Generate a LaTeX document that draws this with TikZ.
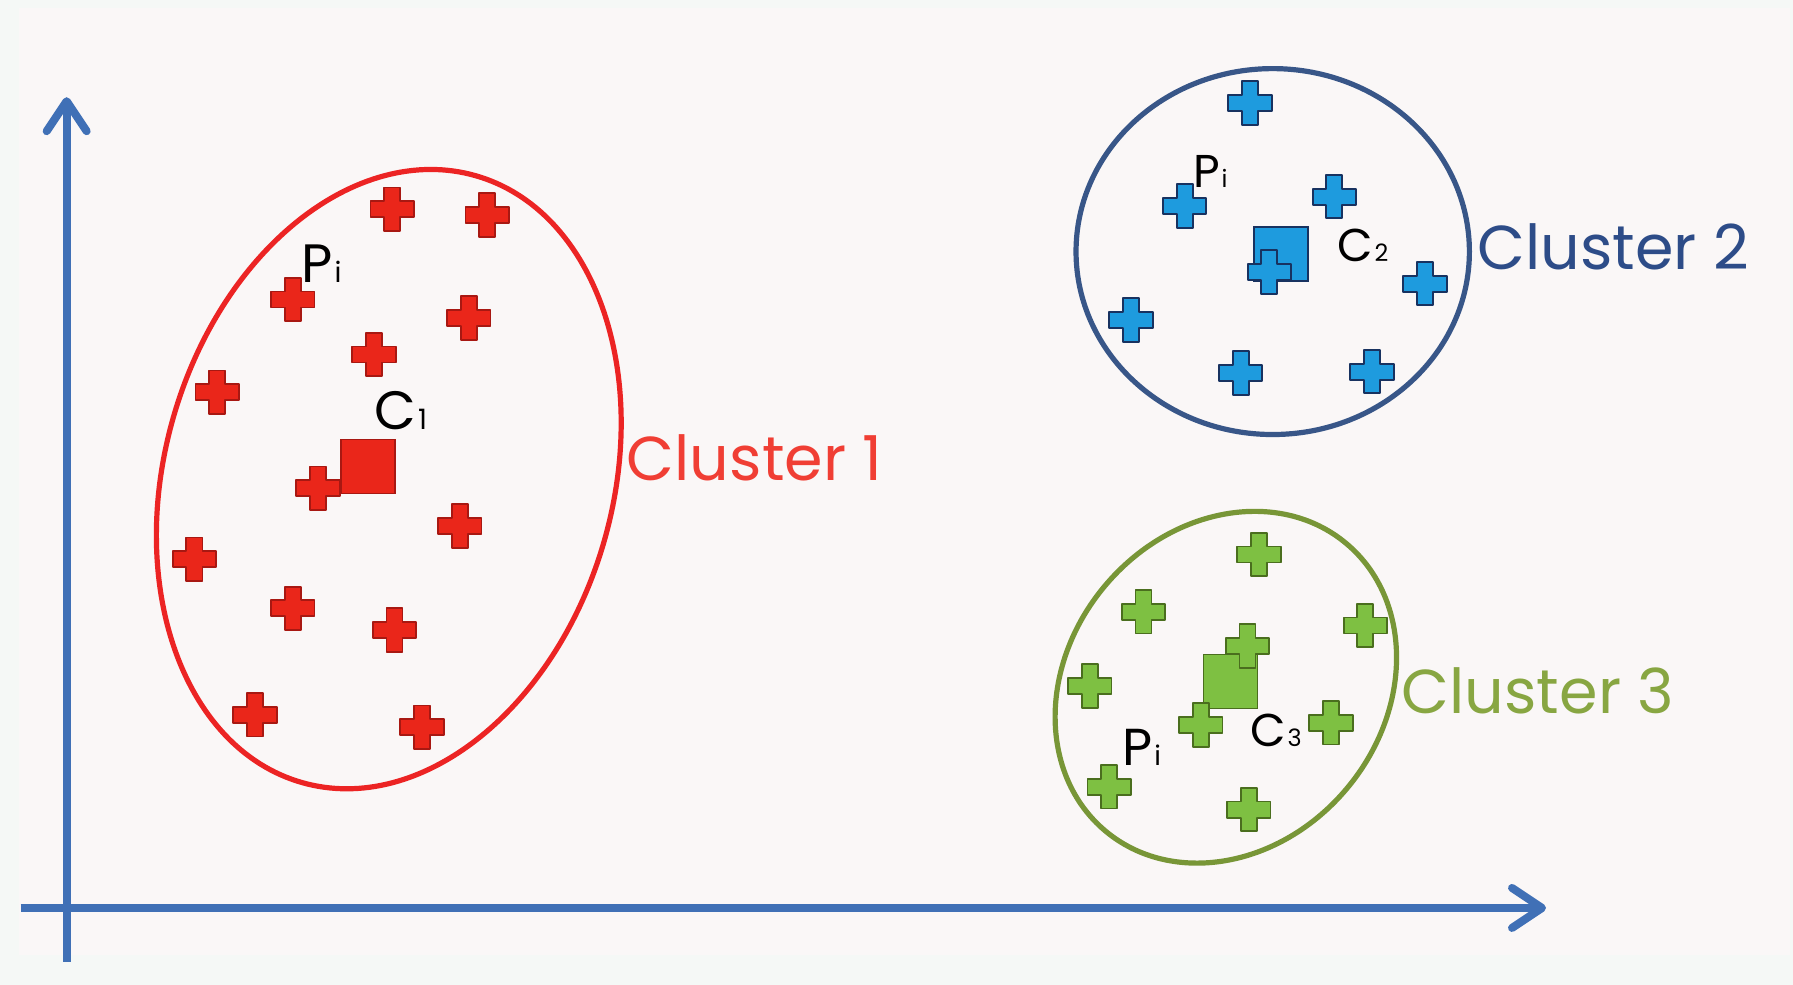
\documentclass[tikz,border=0pt]{standalone}
\usepackage{fontspec}
\setmainfont{Poppins}
\usetikzlibrary{arrows.meta}

\definecolor{outerbg}{RGB}{245,248,246}
\definecolor{innerbg}{RGB}{250,247,247}
\definecolor{axisblue}{RGB}{64,112,182}
\definecolor{redfill}{RGB}{234,38,26}
\definecolor{redline}{RGB}{168,24,18}
\definecolor{redring}{RGB}{236,36,36}
\definecolor{redtext}{RGB}{240,62,52}
\definecolor{bluefill}{RGB}{30,155,222}
\definecolor{blueline}{RGB}{24,50,96}
\definecolor{bluering}{RGB}{56,86,136}
\definecolor{bluetext}{RGB}{45,76,136}
\definecolor{greenfill}{RGB}{126,192,66}
\definecolor{greenline}{RGB}{74,110,30}
\definecolor{greenring}{RGB}{120,150,55}
\definecolor{greentext}{RGB}{136,166,66}

\tikzset{
  plusmark/.pic={
    \path[pic actions] (-7,-19) -- (7,-19) -- (7,-7) -- (19,-7) -- (19,7) -- (7,7)
      -- (7,19) -- (-7,19) -- (-7,7) -- (-19,7) -- (-19,-7) -- (-7,-7) -- cycle;
  },
  redpt/.style={fill=redfill, draw=redline, line width=0.9pt, line join=round},
  bluept/.style={fill=bluefill, draw=blueline, line width=1pt, line join=round},
  greenpt/.style={fill=greenfill, draw=greenline, line width=0.9pt, line join=round},
  centroid/.style={rectangle, minimum size=27pt, inner sep=0pt, line width=0.9pt},
  ring/.style={line width=2.6pt},
  axis/.style={draw=axisblue, line width=4pt,
    -{Straight Barb[length=15pt, width=20pt, line cap=round, line join=round]}},
  axisplain/.style={draw=axisblue, line width=4pt},
  clusterlabel/.style={font=\fontsize{31}{33}\selectfont, anchor=center},
}

% label with a small index letter or digit sitting on the baseline
\newcommand{\idxlabel}[3]{{\fontsize{#1}{#1}\selectfont #2\kern0.04em\fontsize{0.52\dimexpr#1pt\relax}{1}\selectfont #3}}

\begin{document}
\begin{tikzpicture}[x=0.5718pt, y=-0.5718pt]
  \useasboundingbox (0,0) rectangle (1568,861);
  \fill[outerbg] (0,0) rectangle (1568,861);
  \fill[innerbg] (17,7) rectangle (1565,835);

  % axes
  \coordinate (origin) at (58.3,794);
  \coordinate (ytop) at (58.3,85);
  \coordinate (ybottom) at (58.3,841);
  \coordinate (xleft) at (18,794);
  \coordinate (xright) at (1352,794);
  \draw[axisplain] (ybottom) -- (origin);
  \draw[axis] (origin) -- (ytop);
  \draw[axisplain] (xleft) -- (origin);
  \draw[axis] (origin) -- (xright);

  % cluster outlines
  \draw[ring, draw=redring, rotate around={-16:(340,419)}]
    (340,419) ellipse [x radius=196, y radius=276];
  \draw[ring, draw=bluering] (1113,220) ellipse [x radius=172, y radius=160];
  \draw[ring, draw=greenring, rotate around={-40:(1072,601)}]
    (1072,601) ellipse [x radius=138, y radius=164];

  % cluster 1
  \node[centroid, fill=redfill, draw=redline] (c1) at (322,408) {};
  \foreach \px/\py [count=\k] in {343/183, 426/188, 256/262, 410/278, 327/310,
      190/343, 278/427, 402/460, 170/489, 256/532, 345/551, 223/625, 369/636}
    \pic[redpt] (r\k) at (\px,\py) {plusmark};
  \node[anchor=base west, inner sep=0pt] (p1) at (263,247) {\idxlabel{27}{P}{i}};
  \node[anchor=base west, inner sep=0pt] (c1lab) at (327,376) {\idxlabel{27}{C}{1}};
  \node[clusterlabel, text=redtext] (cl1) at (660,400) {Cluster 1};

  % cluster 2
  \node[centroid, fill=bluefill, draw=blueline] (c2) at (1120,222) {};
  \foreach \px/\py [count=\k] in {1093/90, 1036/180, 1167/172, 1110/238, 1246/248,
      989/280, 1085/326, 1200/325}
    \pic[bluept] (b\k) at (\px,\py) {plusmark};
  \node[anchor=base west, inner sep=0pt] (p2) at (1043,164) {\idxlabel{23}{P}{i}};
  \node[anchor=base west, inner sep=0pt] (c2lab) at (1169,229) {\idxlabel{23}{C}{2}};
  \node[clusterlabel, text=bluetext] (cl2) at (1411,216) {Cluster 2};

  % cluster 3
  \node[centroid, fill=greenfill, draw=greenline] (c3) at (1076,596) {};
  \foreach \px/\py [count=\k] in {1101/485, 1000/535, 1194/547, 1091/565, 953/600,
      1050/634, 1164/632, 970/688, 1092/708}
    \pic[greenpt] (g\k) at (\px,\py) {plusmark};
  \node[anchor=base west, inner sep=0pt] (p3) at (981,669) {\idxlabel{26}{P}{i}};
  \node[anchor=base west, inner sep=0pt] (c3lab) at (1093,653) {\idxlabel{23}{C}{3}};
  \node[clusterlabel, text=greentext] (cl3) at (1345,604) {Cluster 3};
\end{tikzpicture}
\end{document}
